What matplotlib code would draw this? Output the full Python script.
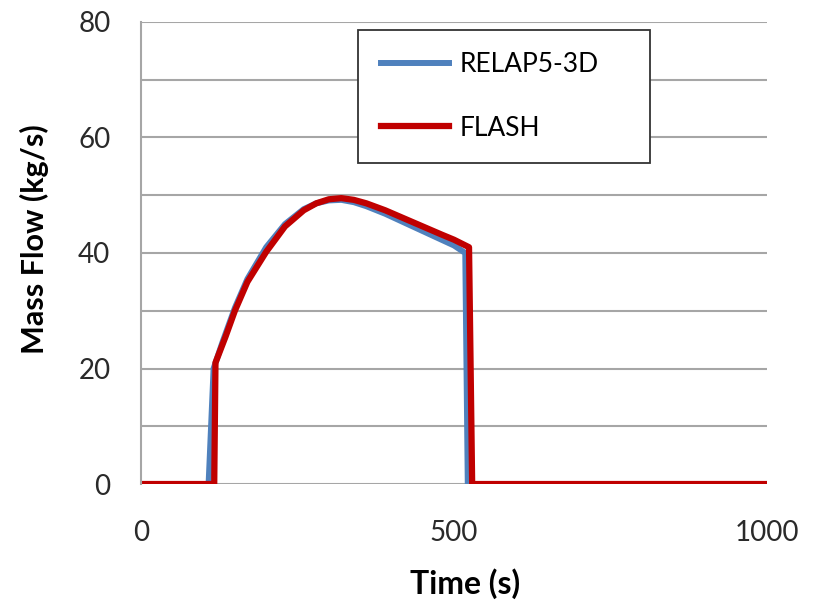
import numpy as np
import matplotlib.pyplot as plt
from matplotlib.ticker import MultipleLocator

# values
time_relap = [0, 108, 116, 130, 150, 170, 200, 230, 260, 280, 300, 320, 340, 360, 390, 420, 450, 480, 500, 518, 522, 1000]
mass_relap = [0, 0, 20, 24.5, 30.5, 35.5, 41, 45, 47.6, 48.6, 49.1, 49.2, 48.8, 48.1, 46.8, 45.3, 43.8, 42.3, 41.3, 40, 0, 0]

time_flash = [0, 117, 119, 135, 150, 170, 200, 230, 260, 280, 300, 320, 340, 360, 390, 420, 450, 480, 500, 524, 529, 1000]
mass_flash = [0, 0, 21, 25.5, 30, 35, 40.2, 44.6, 47.4, 48.6, 49.3, 49.5, 49.2, 48.6, 47.4, 46, 44.6, 43.2, 42.3, 41, 0, 0]

plt.rcParams['font.family'] = ['Lato', 'DejaVu Sans']

fig = plt.figure(figsize=(8.23, 6.07), dpi=100)
ax = fig.add_axes([0.1713, 0.2026, 0.7607, 0.7612])

ax.plot(time_relap, mass_relap, color='#4F81BD', lw=4.3, label='RELAP5-3D', solid_joinstyle='round')
ax.plot(time_flash, mass_flash, color='#C00000', lw=4.5, label='FLASH', solid_joinstyle='round')

ax.set_xlim(0, 1000)
ax.set_ylim(0, 80)
ax.set_xticks([0, 500, 1000])
ax.yaxis.set_major_locator(MultipleLocator(20))
ax.yaxis.set_minor_locator(MultipleLocator(10))
ax.grid(axis='y', which='both', color='#A6A6A6', lw=1.5)
ax.set_axisbelow(True)
ax.tick_params(which='both', length=0, labelsize=20, colors='#2a2a2a')
ax.tick_params(axis='y', pad=22)
ax.tick_params(axis='x', pad=26)
for side in ['top', 'right', 'bottom']:
    ax.spines[side].set_visible(False)
ax.spines['left'].set_color('#A6A6A6')
ax.spines['left'].set_linewidth(1.5)

ax.set_xlabel('Time (s)', fontsize=23, fontweight='bold')
ax.set_ylabel('Mass Flow (kg/s)', fontsize=22, fontweight='bold')
ax.xaxis.set_label_coords(0.518, -0.183)
ax.yaxis.set_label_coords(-0.147, 0.53)

leg = ax.legend(loc='upper left', bbox_to_anchor=(0.347, 0.983, 0.466, 0.0), mode='expand',
                borderaxespad=0, fontsize=19, handlelength=2.6, handletextpad=0.4,
                labelspacing=1.45, borderpad=0.85, fancybox=False, framealpha=1)
leg.get_frame().set_edgecolor('#333333')
leg.get_frame().set_linewidth(1.3)

fig.savefig('out.png', dpi=100)
